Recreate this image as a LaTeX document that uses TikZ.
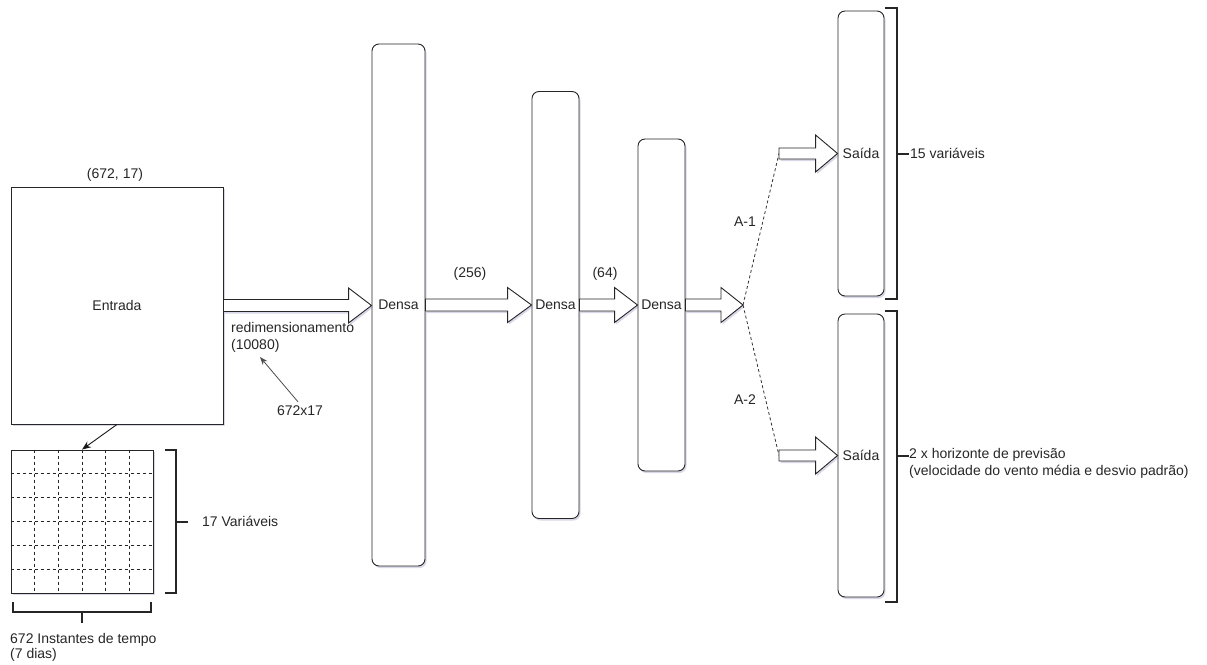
\documentclass[tikz,border=0pt]{standalone}
\usepackage{fontspec}
\setmainfont{Liberation Sans}
\usetikzlibrary{arrows.meta,calc,shadows}

% block arrow between two points: #1 from, #2 to, #3 body half width, #4 head half width, #5 head length
\newcommand{\fatarrow}[5]{%
  \draw[blockarrow] let \p1=(#1), \p2=(#2) in
    (\x1,\y1+#3) -- (\x2-#5,\y1+#3) -- (\x2-#5,\y1+#4) -- (\x2,\y1)
    -- (\x2-#5,\y1-#4) -- (\x2-#5,\y1-#3) -- (\x1,\y1-#3) -- cycle;}

\tikzset{
  every node/.style={font=\fontsize{14pt}{17pt}\selectfont, text=black!85},
  softshadow/.style={drop shadow={shadow xshift=1.5pt, shadow yshift=-2pt, opacity=0.25, fill=blue!25!gray}},
  plainbox/.style={draw=black!85, line width=0.9pt, fill=white, softshadow, inner sep=0pt},
  layerbox/.style={plainbox, rounded corners=7pt},
  blockarrow/.style={draw=black!85, line width=0.9pt, fill=white, softshadow},
  bracketline/.style={draw=black!85, line width=2pt},
  forkline/.style={draw=black!80, line width=0.8pt, dash pattern=on 3pt off 2.5pt},
  gridline/.style={draw=black!85, line width=0.7pt, dash pattern=on 3pt off 3pt},
  plainlabel/.style={inner sep=1pt, align=left},
}

\begin{document}
\begin{tikzpicture}[x=1pt,y=-1pt]
\useasboundingbox (0,0) rectangle (1207,664);

% input block and its matrix view
\node[plainbox, minimum width=212pt, minimum height=237pt] (entrada) at (117,305.5) {Entrada};
\node[plainlabel] (shape) at (115,175) {(672, 17)};
\node[plainbox, minimum width=142pt, minimum height=143pt] (grid) at (82,521.5) {};
\foreach \i in {1,...,5}{
  \draw[gridline] ($(grid.north west)!\i/6!(grid.north east)$) -- ($(grid.south west)!\i/6!(grid.south east)$);
  \draw[gridline] ($(grid.north west)!\i/6!(grid.south west)$) -- ($(grid.north east)!\i/6!(grid.south east)$);
}
\draw[black!90, line width=0.9pt, -{Stealth[length=9pt,width=7pt]}] (entrada.south) -- (grid.north);

% brackets around the matrix
\draw[bracketline] (165,450) -- (176,450) -- (176,593) -- (165,593);
\draw[bracketline] (176,521.5) -- (188,521.5);
\node[plainlabel, anchor=west] (vars) at (201,521.5) {17 Variáveis};
\draw[bracketline] (13,602) -- (13,612) -- (151,612) -- (151,602);
\draw[bracketline] (82,612) -- (82,623);
\node[plainlabel, anchor=west, font=\fontsize{14pt}{15.5pt}\selectfont] (steps) at (9,647.5) {672 Instantes de tempo\\(7 dias)};

% dense layers
\node[layerbox, minimum width=53pt, minimum height=522pt] (d1) at (398.5,305) {Densa};
\node[layerbox, minimum width=47pt, minimum height=427pt] (d2) at (555.5,305) {Densa};
\node[layerbox, minimum width=47pt, minimum height=332pt] (d3) at (661.5,305) {Densa};

% output layers
\node[layerbox, minimum width=46pt, minimum height=285pt] (s1) at (861,153.5) {Saída};
\node[layerbox, minimum width=46pt, minimum height=283pt] (s2) at (861,455.5) {Saída};

% flow between blocks
\fatarrow{entrada.east}{d1.west}{6pt}{17.5pt}{23pt}
\fatarrow{d1.east}{d2.west}{6pt}{17.5pt}{24pt}
\fatarrow{d2.east}{d3.west}{6pt}{17.5pt}{23pt}
\coordinate (fork) at (743,305);
\fatarrow{d3.east}{fork}{6pt}{17.5pt}{22pt}

\coordinate (a1) at (779,153.5);
\coordinate (a2) at (779,455.5);
\draw[forkline] (fork) -- (a1);
\draw[forkline] (fork) -- (a2);
\fatarrow{a1}{s1.west}{5.5pt}{18.5pt}{22pt}
\fatarrow{a2}{s2.west}{5.5pt}{18.5pt}{22pt}

% labels on the flow
\node[plainlabel, anchor=west] (redim) at (230,337.5) {redimensionamento\\(10080)};
\node[plainlabel] (flat) at (300,411) {672x17};
\coordinate (flattip) at (260,357);
\draw[black!70, line width=0.8pt, -{Stealth[length=8pt,width=6pt]}] (flat.north) ++(-2pt,3pt) -- (flattip);
\node[plainlabel] (n256) at (470,274) {(256)};
\node[plainlabel] (n64) at (605,274) {(64)};
\node[plainlabel] (a1lbl) at (745,222) {A-1};
\node[plainlabel] (a2lbl) at (745,400) {A-2};

% brackets around the outputs
\draw[bracketline] (885,8) -- (897,8) -- (897,299) -- (885,299);
\draw[bracketline] (897,153.5) -- (909,153.5);
\node[plainlabel, anchor=west] (out1) at (909,153.5) {15 variáveis};
\draw[bracketline] (885,311) -- (897,311) -- (897,602) -- (885,602);
\draw[bracketline] (897,455.5) -- (909,455.5);
\node[plainlabel, anchor=west] (out2) at (908,463.5) {2 x horizonte de previsão\\(velocidade do vento média e desvio padrão)};
\end{tikzpicture}
\end{document}
